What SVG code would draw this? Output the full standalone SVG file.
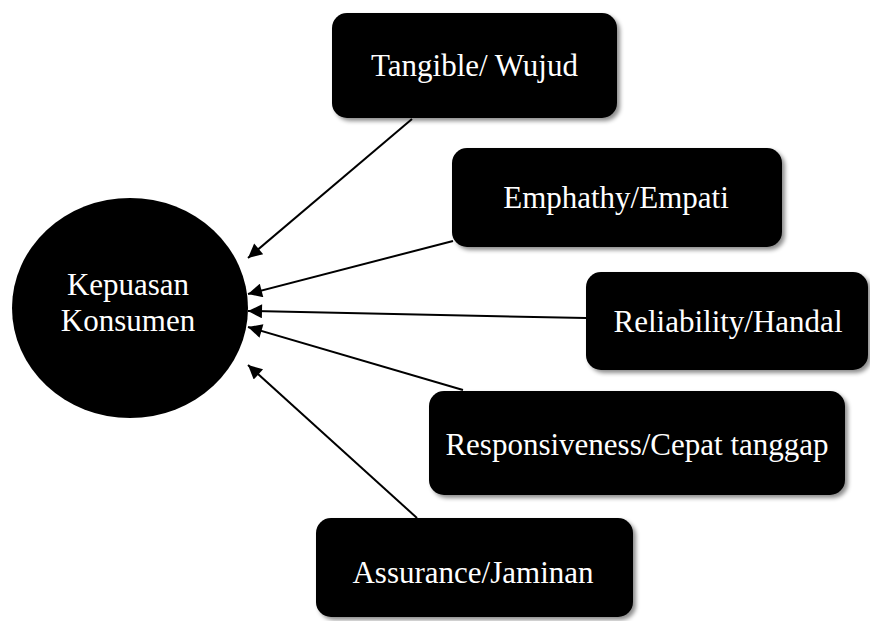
<svg xmlns="http://www.w3.org/2000/svg" width="870" height="621" viewBox="0 0 870 621">
<defs>
<style>
.box{fill:#000;filter:url(#sh)}
.lbl{fill:#fff;font-family:"Liberation Serif","Times New Roman",serif;font-size:31px;text-anchor:middle}
.con{stroke:#000;stroke-width:2;fill:none;marker-end:url(#ah)}
</style>
<filter id="sh" x="-10%" y="-10%" width="125%" height="130%">
<feDropShadow dx="3" dy="3" stdDeviation="2" flood-color="#000" flood-opacity="0.45"/>
</filter>
<marker id="ah" viewBox="0 0 10 10" refX="10" refY="5" markerWidth="8.5" markerHeight="7" markerUnits="strokeWidth" orient="auto">
<path d="M0,0 L10,5 L0,10 Z" fill="#000"/>
</marker>
</defs>
<rect width="870" height="621" fill="#fff"/>
<g id="connectors">
<line class="con" x1="412" y1="119" x2="248" y2="258"/>
<line class="con" x1="453" y1="241" x2="248" y2="294"/>
<line class="con" x1="586" y1="318" x2="248" y2="311"/>
<line class="con" x1="463" y1="390" x2="248" y2="327"/>
<line class="con" x1="417" y1="518" x2="248" y2="365"/>
</g>
<g id="kepuasan">
<ellipse cx="130" cy="308" rx="118" ry="110" fill="#000"/>
<text class="lbl" x="128" y="295">Kepuasan</text>
<text class="lbl" x="128" y="331">Konsumen</text>
</g>
<g id="tangible">
<rect class="box" x="332" y="13" width="285" height="105" rx="15"/>
<text class="lbl" x="474.5" y="76">Tangible/ Wujud</text>
</g>
<g id="emphathy">
<rect class="box" x="452" y="148" width="330" height="99" rx="15"/>
<text class="lbl" x="616" y="208">Emphathy/Empati</text>
</g>
<g id="reliability">
<rect class="box" x="586" y="272" width="282" height="98" rx="15"/>
<text class="lbl" x="728" y="332">Reliability/Handal</text>
</g>
<g id="responsiveness">
<rect class="box" x="429" y="391" width="416" height="104" rx="15"/>
<text class="lbl" x="637" y="455">Responsiveness/Cepat tanggap</text>
</g>
<g id="assurance">
<rect class="box" x="316" y="518" width="317" height="99" rx="15"/>
<text class="lbl" x="473" y="583">Assurance/Jaminan</text>
</g>
</svg>
